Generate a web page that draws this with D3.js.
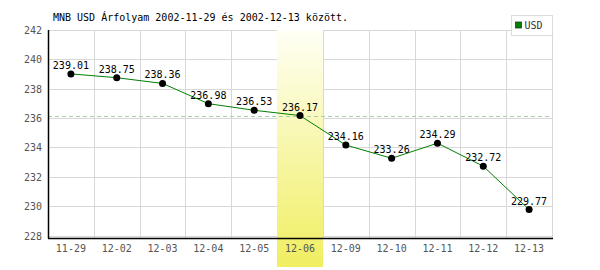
<!DOCTYPE html>
<html>
<head>
<meta charset="utf-8">
<script src="https://cdn.jsdelivr.net/npm/d3@7"></script>
<style>
  body { margin: 0; background: #fff; }
  text { font-family: "DejaVu Sans Mono", monospace; }
</style>
</head>
<body>
<script>
var dates = ['11-29', '12-02', '12-03', '12-04', '12-05', '12-06', '12-09', '12-10', '12-11', '12-12', '12-13']
var usd = [239.01, 238.75, 238.36, 236.98, 236.53, 236.17, 234.16, 233.26, 234.29, 232.72, 229.77]
var yTicks = [228, 230, 232, 234, 236, 238, 240, 242]
var highlight = '12-06'
var title = 'MNB USD Árfolyam 2002-11-29 és 2002-12-13 között.'
var seriesName = 'USD'

var options = {
  width: 600,
  height: 270,
  left: 48,
  right: 553,
  top: 30,
  bottom: 238
}

var svg = d3.select('body').append('svg')
  .attr('width', options.width)
  .attr('height', options.height)

var defs = svg.append('defs')
var grad = defs.append('linearGradient').attr('id', 'hl')
  .attr('x1', 0).attr('y1', 0).attr('x2', 0).attr('y2', 1)
grad.append('stop').attr('offset', '0%').attr('stop-color', '#fffff6')
grad.append('stop').attr('offset', '100%').attr('stop-color', '#f0ee60')

var x = d3.scaleBand().domain(dates).range([options.left, options.right - 1])
var y = d3.scaleLinear().domain([228, 242]).range([235.5, options.top])

// grid
svg.append('g').selectAll('line.h').data(yTicks).enter().append('line')
  .attr('x1', options.left).attr('x2', options.right - 1)
  .attr('y1', function(d) { return Math.round(y(d)) + 0.5 })
  .attr('y2', function(d) { return Math.round(y(d)) + 0.5 })
  .attr('stroke', '#d8d8d8').attr('stroke-width', 1)

svg.append('g').selectAll('line.v').data(dates).enter().append('line')
  .attr('x1', function(d) { return Math.round(x(d) + x.bandwidth()) + 0.5 })
  .attr('x2', function(d) { return Math.round(x(d) + x.bandwidth()) + 0.5 })
  .attr('y1', options.top).attr('y2', options.bottom)
  .attr('stroke', '#d8d8d8').attr('stroke-width', 1)

// highlighted day
svg.append('rect')
  .attr('x', Math.round(x(highlight)))
  .attr('y', options.top)
  .attr('width', Math.round(x.bandwidth()))
  .attr('height', 267 - options.top)
  .attr('fill', 'url(#hl)')

// dashed reference line at highlighted value
var ref = usd[dates.indexOf(highlight)]
svg.append('line')
  .attr('x1', options.left).attr('x2', options.right - 1)
  .attr('y1', Math.round(y(ref)) + 0.5).attr('y2', Math.round(y(ref)) + 0.5)
  .attr('stroke', '#a8d0a8').attr('stroke-dasharray', '4,3')

// axes lines
svg.append('line')
  .attr('x1', options.left + 0.5).attr('x2', options.left + 0.5)
  .attr('y1', options.top).attr('y2', options.bottom + 0.5)
  .attr('stroke', '#000').attr('stroke-width', 1.5)
svg.append('line')
  .attr('x1', options.left).attr('x2', options.right)
  .attr('y1', options.bottom + 0.5).attr('y2', options.bottom + 0.5)
  .attr('stroke', '#000').attr('stroke-width', 1.5)

// tick labels
svg.append('g').selectAll('text').data(yTicks).enter().append('text')
  .attr('x', 42)
  .attr('y', function(d) { return y(d) + 4 })
  .attr('text-anchor', 'end')
  .attr('font-size', 10)
  .attr('fill', '#555')
  .text(function(d) { return d })

svg.append('g').selectAll('text').data(dates).enter().append('text')
  .attr('x', function(d) { return x(d) + x.bandwidth() / 2 })
  .attr('y', 252)
  .attr('text-anchor', 'middle')
  .attr('font-size', 10)
  .attr('fill', '#555')
  .text(function(d) { return d })

// series
var line = d3.line()
  .x(function(d, i) { return x(dates[i]) + x.bandwidth() / 2 })
  .y(function(d) { return y(d) })

svg.append('path').datum(usd)
  .attr('d', line)
  .attr('fill', 'none')
  .attr('stroke', '#008000')
  .attr('stroke-width', 1)

svg.append('g').selectAll('circle').data(usd).enter().append('circle')
  .attr('cx', function(d, i) { return x(dates[i]) + x.bandwidth() / 2 })
  .attr('cy', function(d) { return y(d) })
  .attr('r', 3.5)
  .attr('fill', '#000')

svg.append('g').selectAll('text').data(usd).enter().append('text')
  .attr('x', function(d, i) { return x(dates[i]) + x.bandwidth() / 2 })
  .attr('y', function(d) { return y(d) - 5 })
  .attr('text-anchor', 'middle')
  .attr('font-size', 10)
  .attr('fill', '#000')
  .text(function(d) { return d.toFixed(2) })

// title
svg.append('text')
  .attr('x', 53).attr('y', 21)
  .attr('font-size', 10)
  .attr('fill', '#000')
  .text(title)

// legend
var lg = svg.append('g').attr('transform', 'translate(511.5,15.5)')
lg.append('rect').attr('width', 41).attr('height', 20)
  .attr('fill', '#fff').attr('stroke', '#dcdcdc')
lg.append('rect').attr('x', 4).attr('y', 6.5).attr('width', 6).attr('height', 6)
  .attr('fill', '#008000').attr('stroke', '#333').attr('stroke-width', 0.8)
lg.append('text').attr('x', 13).attr('y', 13.5)
  .attr('font-family', 'Liberation Sans Narrow, Liberation Sans, sans-serif')
  .attr('font-size', 10).attr('fill', '#333')
  .text(seriesName)
</script>
</body>
</html>
